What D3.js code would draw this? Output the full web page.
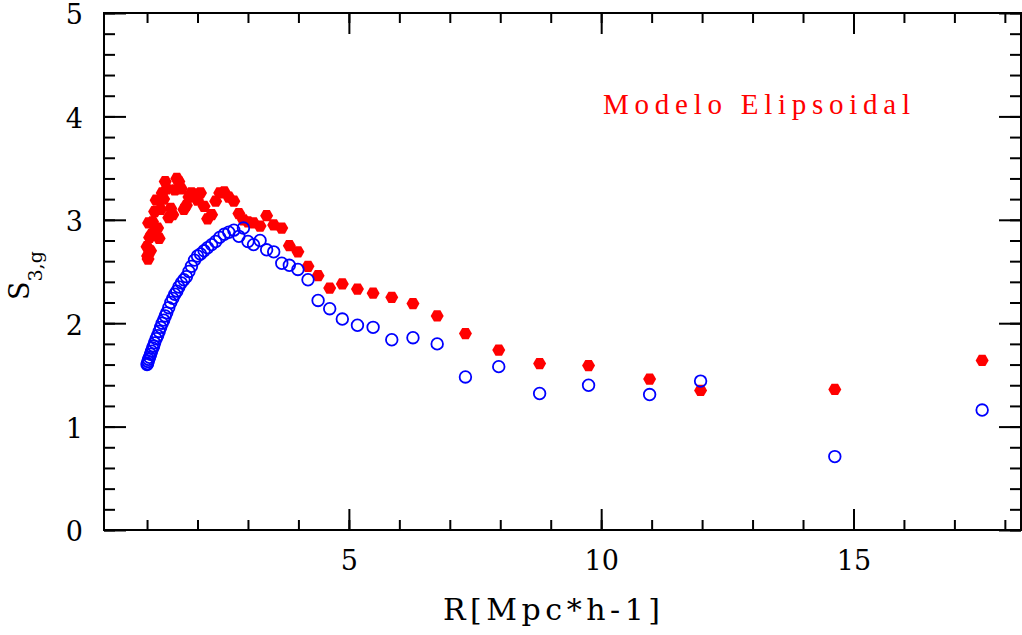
<!DOCTYPE html>
<html lang="en">
<head>
    <meta charset="UTF-8">
    <title>S3,g vs R</title>
    <script src="https://d3js.org/d3.v7.min.js"></script>
    <style>
        body { margin: 0; background: #fff; }
        .tick text { font-family: "DejaVu Serif", serif; font-size: 27px; fill: #000; }
        .tick line { stroke: #000; stroke-width: 2px; }
    </style>
</head>
<body>
    <div id="chart"></div>

    <script>
        // R values shared by both series (Mpc/h)
        const radius = [
            1.00, 1.01, 1.02, 1.03, 1.05, 1.07, 1.09, 1.11, 1.13, 1.15,
            1.18, 1.21, 1.24, 1.27, 1.30, 1.33, 1.36, 1.39, 1.43, 1.47,
            1.51, 1.55, 1.59, 1.63, 1.68, 1.73, 1.78, 1.83, 1.88, 1.94,
            2.00, 2.06, 2.13, 2.20, 2.28, 2.36, 2.44, 2.53, 2.62, 2.72,
            2.82, 2.91, 3.00, 3.11, 3.24, 3.37, 3.51, 3.67, 3.82, 3.99,
            4.19, 4.39, 4.62, 4.87, 5.17, 5.48, 5.85, 6.27, 6.75, 7.31,
            7.97, 8.78, 9.75, 10.96, 11.97, 14.63, 17.55
        ];
        // red filled hexagons: elliptical model
        const s3Model = [
            2.74, 2.65, 2.62, 2.97, 2.83, 2.70, 2.86, 2.98, 2.88, 3.08,
            3.19, 2.92, 2.82, 3.10, 3.26, 3.20, 3.37, 3.30, 3.02, 3.11,
            3.05, 3.29, 3.40, 3.37, 3.30, 3.10, 3.14, 3.22, 3.26, 3.25,
            3.19, 3.26, 3.13, 3.01, 3.05, 3.18, 3.26, 3.27, 3.22, 3.18,
            3.06, 3.00, 2.98, 2.97, 2.94, 3.04, 2.95, 2.92, 2.75, 2.69,
            2.55, 2.46, 2.34, 2.38, 2.33, 2.29, 2.25, 2.19, 2.07, 1.90,
            1.74, 1.61, 1.59, 1.46, 1.35, 1.36, 1.64
        ];
        // blue open circles
        const s3Galaxy = [
            1.60, 1.61, 1.63, 1.65, 1.67, 1.70, 1.73, 1.76, 1.78, 1.81,
            1.85, 1.88, 1.92, 1.96, 2.00, 2.03, 2.07, 2.10, 2.15, 2.20,
            2.24, 2.28, 2.31, 2.35, 2.39, 2.42, 2.45, 2.50, 2.55, 2.61,
            2.65, 2.67, 2.70, 2.73, 2.76, 2.79, 2.83, 2.86, 2.88, 2.90,
            2.84, 2.92, 2.79, 2.76, 2.80, 2.71, 2.69, 2.58, 2.56, 2.52,
            2.42, 2.22, 2.14, 2.04, 1.98, 1.96, 1.84, 1.86, 1.80, 1.48,
            1.58, 1.32, 1.40, 1.31, 1.44, 0.71, 1.16
        ];

        const xMajorTicks = [5, 10, 15];
        const yMajorTicks = [0, 1, 2, 3, 4, 5];
        const legendLabel = "Modelo Elipsoidal";

        const width = 1022, height = 635;
        const margin = { top: 13, right: 1, bottom: 105, left: 104 };
        const innerW = width - margin.left - margin.right;
        const innerH = height - margin.top - margin.bottom;

        const svg = d3.select("#chart")
            .append("svg")
            .attr("width", width)
            .attr("height", height);

        const g = svg.append("g")
            .attr("transform", `translate(${margin.left},${margin.top})`);

        const x = d3.scaleLinear().domain([0.147, 18.32]).range([0, innerW]);
        const y = d3.scaleLinear().domain([0, 5]).range([innerH, 0]);

        const xMinor = d3.range(1, 19);
        const yMinor = d3.range(0, 5.01, 0.2);

        // ticks on all four sides, pointing inward
        function addAxis(axis, transform) {
            const a = g.append("g").attr("transform", transform).call(axis);
            a.select(".domain").remove();
            return a;
        }
        addAxis(d3.axisBottom(x).tickValues(xMinor).tickSize(-10).tickFormat(""), `translate(0,${innerH})`);
        addAxis(d3.axisTop(x).tickValues(xMinor).tickSize(-10).tickFormat(""), "translate(0,0)");
        addAxis(d3.axisTop(x).tickValues(xMajorTicks).tickSize(-21).tickFormat(""), "translate(0,0)");
        addAxis(d3.axisBottom(x).tickValues(xMajorTicks).tickSize(-21).tickPadding(21).tickFormat(d3.format("d")), `translate(0,${innerH})`);

        addAxis(d3.axisLeft(y).tickValues(yMinor).tickSize(-11).tickFormat(""), "translate(0,0)");
        addAxis(d3.axisRight(y).tickValues(yMinor).tickSize(-11).tickFormat(""), `translate(${innerW},0)`);
        addAxis(d3.axisRight(y).tickValues(yMajorTicks).tickSize(-22).tickFormat(""), `translate(${innerW},0)`);
        const yAx = addAxis(d3.axisLeft(y).tickValues(yMajorTicks).tickSize(-22).tickPadding(21).tickFormat(d3.format("d")), "translate(0,0)");
        yAx.selectAll("text").attr("dy", "0.4em");

        // frame
        g.append("rect")
            .attr("width", innerW)
            .attr("height", innerH)
            .attr("fill", "none")
            .attr("stroke", "#000")
            .attr("stroke-width", 2);

        const points = radius.map((r, i) => ({ r: r, model: s3Model[i], gal: s3Galaxy[i] }));

        // hexagon marker, pointy left/right
        const hexR = 6.5;
        const hexPath = d3.line()(d3.range(6).map(k => {
            const a = k * Math.PI / 3;
            return [hexR * Math.cos(a), hexR * Math.sin(a)];
        })) + "Z";

        g.append("g").selectAll("path")
            .data(points)
            .enter()
            .append("path")
            .attr("d", hexPath)
            .attr("transform", d => `translate(${x(d.r)},${y(d.model)})`)
            .attr("fill", "#ff0000");

        g.append("g").selectAll("circle")
            .data(points)
            .enter()
            .append("circle")
            .attr("cx", d => x(d.r))
            .attr("cy", d => y(d.gal))
            .attr("r", 5.8)
            .attr("fill", "none")
            .attr("stroke", "#0000ff")
            .attr("stroke-width", 1.8);

        // legend label
        svg.append("text")
            .attr("x", 603)
            .attr("y", 114)
            .attr("textLength", 307)
            .attr("lengthAdjust", "spacing")
            .style("font-family", "'Liberation Serif', serif")
            .style("font-size", "29px")
            .attr("fill", "#ff0000")
            .text(legendLabel);

        // x title
        svg.append("text")
            .attr("x", 443)
            .attr("y", 620)
            .attr("textLength", 217)
            .attr("lengthAdjust", "spacing")
            .style("font-family", "'DejaVu Serif', serif")
            .style("font-size", "30px")
            .text("R[Mpc*h-1]");

        // y title S_{3,g}
        const yt = svg.append("text")
            .attr("transform", "translate(29,300) rotate(-90)")
            .style("font-family", "'DejaVu Serif', serif")
            .style("font-size", "27px");
        yt.append("tspan").text("S");
        yt.append("tspan")
            .attr("dy", 13)
            .style("font-size", "19px")
            .text("3,g");
    </script>
</body>
</html>
